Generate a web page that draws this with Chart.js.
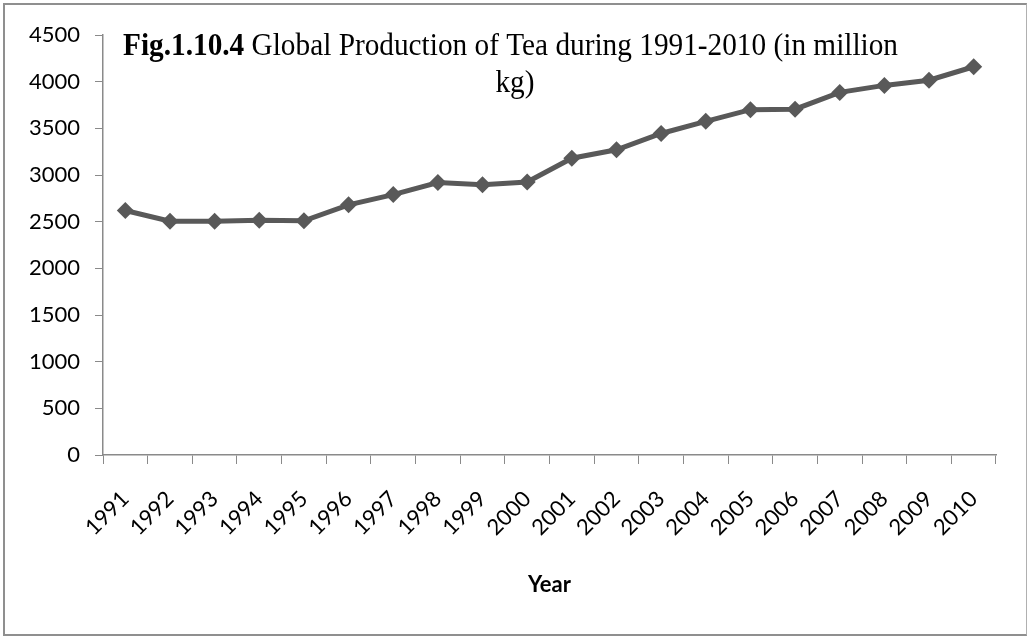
<!DOCTYPE html>
<html>
<head>
<meta charset="utf-8">
<style>
  html, body { margin: 0; padding: 0; background: #ffffff; }
  #wrap { position: relative; width: 1028px; height: 637px; overflow: hidden; }
  #chart { position: absolute; left: 0; top: 0; }
  #frame {
    position: absolute; left: 3px; top: 3px; width: 1024px; height: 633px;
    box-sizing: border-box; border: 2px solid #8f8f8f; border-right: 1px solid #b0b0b0;
    pointer-events: none;
  }
</style>
<script src="https://cdn.jsdelivr.net/npm/chart.js@4.4.1/dist/chart.umd.min.js"></script>
</head>
<body>
<div id="wrap">
  <canvas id="chart" width="1028" height="637"></canvas>
  <div id="frame"></div>
</div>
<script>
// Global tea production, million kg
const years = ['1991','1992','1993','1994','1995','1996','1997','1998','1999','2000',
               '2001','2002','2003','2004','2005','2006','2007','2008','2009','2010'];
const production = [2620, 2505, 2505, 2515, 2510, 2680, 2790, 2920, 2895, 2925,
                    3180, 3270, 3445, 3575, 3700, 3705, 3885, 3960, 4015, 4160];
const yTicks = { min: 0, max: 4500, step: 500 };
const titleBold = 'Fig.1.10.4';
const titleRest = ' Global Production of Tea during 1991-2010 (in million';
const titleLine2 = 'kg)';
const xTitle = 'Year';

const LINE = '#595959';
const AXIS = '#8a8a8a';
const SANS = 'Lato, "Open Sans", sans-serif';

// Two-line figure caption with a bold figure number, drawn over the plot
const captionPlugin = {
  id: 'caption',
  afterDraw(chart) {
    const ctx = chart.ctx;
    const size = 32;
    const bold = 'bold ' + size + 'px "Liberation Serif", "Times New Roman", serif';
    const reg = size + 'px "Liberation Serif", "Times New Roman", serif';
    ctx.save();
    ctx.fillStyle = '#000';
    ctx.textBaseline = 'alphabetic';
    ctx.font = bold;
    const wb = ctx.measureText(titleBold).width;
    ctx.font = reg;
    const wr = ctx.measureText(titleRest).width;
    const left = 123, right = 898;
    const sx = (right - left) / (wb + wr);
    ctx.translate(left, 55);
    ctx.scale(sx, 1);
    ctx.font = bold;
    ctx.fillText(titleBold, 0, 0);
    ctx.font = reg;
    ctx.fillText(titleRest, wb, 0);
    ctx.restore();

    ctx.save();
    ctx.fillStyle = '#000';
    ctx.font = reg;
    ctx.textAlign = 'center';
    ctx.translate(515, 92);
    ctx.scale(sx, 1);
    ctx.fillText(titleLine2, 0, 0);
    ctx.restore();
  }
};

new Chart(document.getElementById('chart'), {
  type: 'line',
  data: {
    labels: years,
    datasets: [{
      data: production,
      borderColor: LINE,
      borderWidth: 5,
      backgroundColor: LINE,
      pointStyle: 'rectRot',
      pointRadius: 8.5,
      pointBorderWidth: 0,
      pointBackgroundColor: LINE,
      tension: 0,
      fill: false
    }]
  },
  options: {
    responsive: false,
    animation: false,
    devicePixelRatio: 1,
    layout: { padding: { left: 0, top: 35, right: 32, bottom: 0 } },
    plugins: {
      legend: { display: false },
      tooltip: { enabled: false },
      title: { display: false }
    },
    scales: {
      x: {
        type: 'category',
        offset: true,
        grid: {
          offset: true,
          drawOnChartArea: false,
          drawTicks: true,
          tickLength: 9,
          tickColor: AXIS,
          color: AXIS
        },
        border: { color: AXIS, width: 1.5 },
        ticks: {
          autoSkip: false,
          maxRotation: 45,
          minRotation: 45,
          padding: 22,
          color: '#000',
          font: { family: SANS, size: 22 }
        },
        title: {
          display: true,
          text: xTitle,
          color: '#000',
          font: { family: SANS, size: 22, weight: 'bold' },
          padding: { top: 0, bottom: 39 }
        },
        afterFit(scale) { scale.height = 182; }
      },
      y: {
        min: yTicks.min,
        max: yTicks.max,
        grid: {
          drawOnChartArea: false,
          drawTicks: true,
          tickLength: 8,
          tickColor: AXIS,
          color: AXIS
        },
        border: { color: AXIS, width: 1.5 },
        ticks: {
          stepSize: yTicks.step,
          padding: 15,
          color: '#000',
          font: { family: SANS, size: 22 },
          callback: (v) => String(v)
        },
        afterFit(scale) { scale.width = 103; }
      }
    }
  },
  plugins: [captionPlugin]
});
</script>
</body>
</html>
